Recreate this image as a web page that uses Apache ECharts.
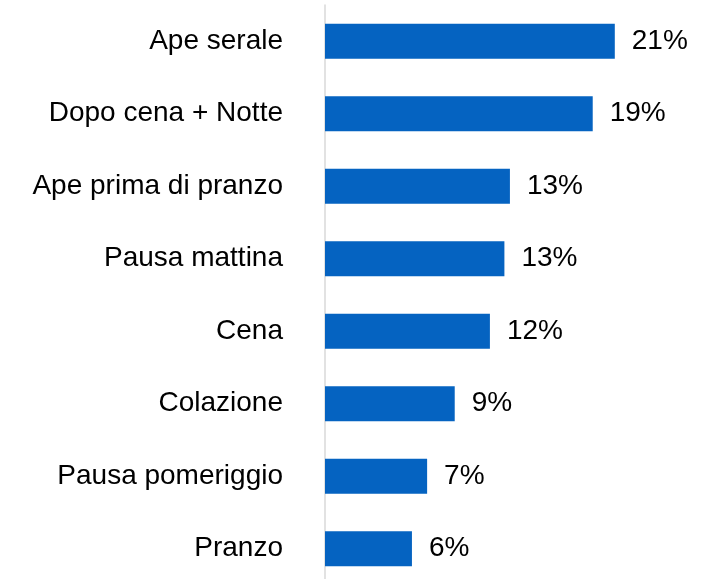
<!DOCTYPE html>
<html>
<head>
<meta charset="utf-8">
<script src="https://cdn.jsdelivr.net/npm/echarts@6/dist/echarts.min.js"></script>
<style>
  html, body { margin: 0; padding: 0; background: #fff; }
  #chart { width: 704px; height: 579px; }
</style>
</head>
<body>
<div id="chart"></div>
<script>
// momenti di consumo, dall'alto verso il basso
const categories = ['Ape serale', 'Dopo cena + Notte', 'Ape prima di pranzo', 'Pausa mattina', 'Cena', 'Colazione', 'Pausa pomeriggio', 'Pranzo']
// quote in percentuale
const shares = [21.0, 19.4, 13.4, 13.0, 11.95, 9.4, 7.4, 6.3]

const chartInstance = echarts.init(document.getElementById('chart'))

const option = {
  animation: false,
  textStyle: {
    fontFamily: 'Liberation Sans'
  },
  // la griglia esce un po' sotto il bordo, come nell'originale
  grid: {
    left: 325,
    right: 34,
    top: 5,
    height: 580,
    outerBoundsMode: 'none'
  },
  xAxis: {
    type: 'value',
    min: 0,
    max: 25,
    show: false
  },
  yAxis: {
    type: 'category',
    data: categories,
    inverse: true,
    axisLine: {
      show: true,
      lineStyle: { color: '#d9d9d9', width: 1.5 }
    },
    axisTick: { show: false },
    axisLabel: {
      margin: 42,
      fontSize: 28,
      color: '#000'
    }
  },
  series: [
    {
      type: 'bar',
      data: shares,
      barWidth: 35,
      itemStyle: { color: '#0563c1' },
      label: {
        show: true,
        position: 'right',
        distance: 17,
        fontSize: 28,
        color: '#000',
        formatter: p => Math.round(p.value) + '%'
      }
    }
  ]
}
chartInstance.setOption(option)
</script>
</body>
</html>
